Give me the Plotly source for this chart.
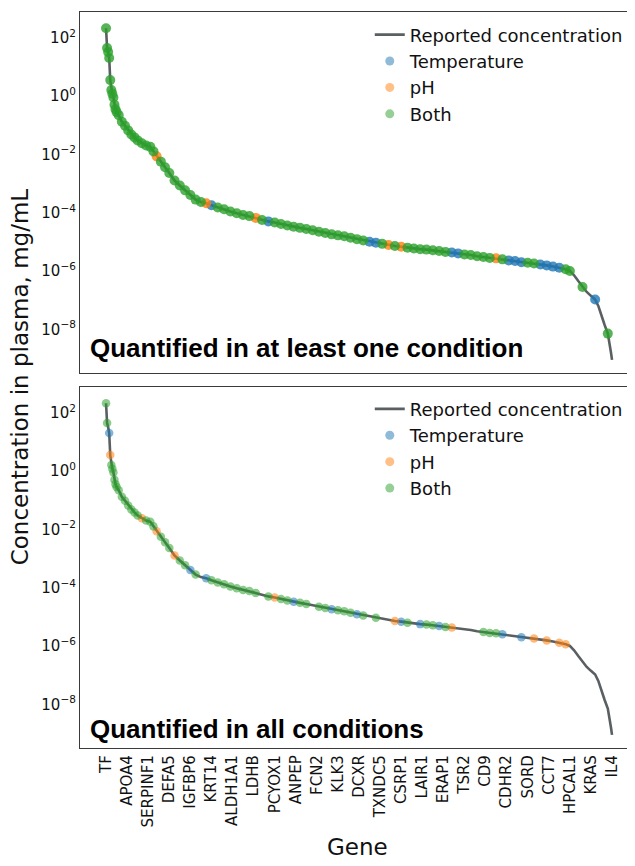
import plotly.graph_objects as go

# ---------------- data ----------------
tick_genes = ["TF", "APOA4", "SERPINF1", "DEFA5", "IGFBP6", "KRT14", "ALDH1A1", "LDHB",
              "PCYOX1", "ANPEP", "FCN2", "KLK3", "DCXR", "TXNDC5", "CSRP1", "LAIR1",
              "ERAP1", "TSR2", "CD9", "CDHR2", "SORD", "CCT7", "HPCAL1", "KRAS", "IL4"]
tick_step = 20  # one labelled gene every 20 ranks

# gene rank (sorted by reported plasma concentration) and reported concentration, mg/mL
curve_idx = [0, 1, 2, 3, 4, 5, 6, 7, 8, 9, 10, 12, 15, 18, 21, 24, 27, 30, 34, 38, 42, 45, 48,
             52, 56, 60, 65, 70, 75, 80, 85, 90, 95, 100, 106, 112, 118, 124, 130, 136, 142,
             148, 154, 160, 166, 172, 178, 184, 190, 196, 202, 208, 214, 220, 226, 232, 238,
             244, 250, 256, 262, 268, 274, 280, 286, 292, 298, 304, 310, 316, 322, 328, 334,
             340, 346, 352, 358, 364, 370, 376, 382, 388, 394, 400, 406, 412, 418, 424, 430,
             436, 440, 444, 448, 452, 456, 460, 464, 467, 470, 473, 476, 478, 479, 480]
curve_conc = [2.1e2, 44, 32, 20, 3.5, 1.6, 1.2, 0.89, 0.50, 0.35, 0.28, 0.22, 0.13, 0.095,
              0.066, 0.048, 0.038, 0.030, 0.024, 0.020, 0.018, 0.0126, 0.0085, 0.0056, 0.0036,
              0.0023, 0.00126, 8.5e-4, 5.8e-4, 4.0e-4, 2.8e-4, 2.3e-4, 2.1e-4, 1.8e-4,
              1.5e-4, 1.3e-4, 1.1e-4, 9.5e-5, 8.3e-5, 7.6e-5, 6.6e-5, 5.6e-5, 5.0e-5, 4.6e-5,
              4.1e-5, 3.6e-5, 3.3e-5, 3.0e-5, 2.75e-5, 2.5e-5, 2.2e-5, 2.0e-5, 1.8e-5, 1.66e-5,
              1.55e-5, 1.38e-5, 1.23e-5, 1.10e-5, 1.0e-5, 9.3e-6, 8.5e-6, 7.8e-6, 7.2e-6,
              6.8e-6, 6.3e-6, 5.9e-6, 5.6e-6, 5.4e-6, 5.1e-6, 4.8e-6, 4.5e-6, 4.3e-6, 4.0e-6,
              3.7e-6, 3.5e-6, 3.2e-6, 3.0e-6, 2.8e-6, 2.7e-6, 2.5e-6, 2.3e-6, 2.2e-6, 2.0e-6,
              1.9e-6, 1.8e-6, 1.66e-6, 1.55e-6, 1.41e-6, 1.29e-6, 1.15e-6,
              1.0e-6, 7.1e-7, 4.5e-7, 2.8e-7, 1.9e-7, 1.4e-7, 1.05e-7,
              6.3e-8, 2.8e-8, 1.4e-8, 7.1e-9, 3.2e-9, 1.6e-9, 8.9e-10]

# Panel 1: quantified in at least one condition
top_temperature_idx = [100, 154, 250, 256, 328, 334, 382, 388, 394, 412, 418, 424, 430, 464]
top_ph_idx = [48, 95, 142, 268, 280, 370]
top_not_quantified_idx = [444, 448, 456, 460, 467, 470, 473, 478, 479, 480]

# Panel 2: quantified in all conditions
bot_temperature_idx = [3, 80, 95, 178, 214, 238, 280, 298, 316, 376, 394]
bot_ph_idx = [4, 34, 48, 65, 160, 274, 328, 406, 418, 430, 436]
bot_both_idx = [0, 1, 5, 6, 7, 8, 9, 10, 12, 15, 18, 21, 24, 27, 30, 38, 42, 45, 52, 56, 60,
                70, 75, 85, 100, 106, 112, 118, 124, 130, 136, 142, 154, 166, 172, 184, 190,
                202, 208, 220, 226, 232, 244, 256, 286, 304, 310, 322, 358, 364, 370]

panel_titles = ["Quantified in at least one condition", "Quantified in all conditions"]

# ---------------- derived ----------------
conc_of = dict(zip(curve_idx, curve_conc))
top_both_idx = [i for i in curve_idx
                if i not in top_temperature_idx and i not in top_ph_idx
                and i not in top_not_quantified_idx]

C_TEMP, C_PH, C_BOTH = "#1f77b4", "#ff7f0e", "#2ca02c"
LINE_C = "#5a6062"
FONT = "DejaVu Sans"

fig = go.Figure()

panels = [
    ("x", "y", "legend", top_temperature_idx, top_ph_idx, top_both_idx, 0.8, 10),
    ("x2", "y2", "legend2", bot_temperature_idx, bot_ph_idx, bot_both_idx, 0.55, 8.5),
]
for xa, ya, lg, t_idx, p_idx, b_idx, op, msize in panels:
    fig.add_trace(go.Scatter(x=curve_idx, y=curve_conc, mode="lines",
                             line=dict(color=LINE_C, width=2.6),
                             name="Reported concentration", legend=lg, legendgroup=lg + "a",
                             xaxis=xa, yaxis=ya))
    for name, col, idx in [("Temperature", C_TEMP, t_idx), ("pH", C_PH, p_idx),
                           ("Both", C_BOTH, b_idx)]:
        fig.add_trace(go.Scatter(x=idx, y=[conc_of[i] for i in idx], mode="markers",
                                 marker=dict(color=col, size=msize, opacity=op, line=dict(width=0)),
                                 name=name, showlegend=False, xaxis=xa, yaxis=ya))
    for name, col in [("Temperature", C_TEMP), ("pH", C_PH), ("Both", C_BOTH)]:
        fig.add_trace(go.Scatter(x=[None], y=[None], mode="markers",
                                 marker=dict(color=col, size=9, opacity=0.5),
                                 name=name, legend=lg, legendgroup=lg + name,
                                 xaxis=xa, yaxis=ya))

tickvals_y = [1e-8, 1e-6, 1e-4, 1e-2, 1e0, 1e2]
ticktext_y = ["10<sup>−8</sup>", "10<sup>−6</sup>", "10<sup>−4</sup>", "10<sup>−2</sup>",
              "10<sup>0</sup>", "10<sup>2</sup>"]
xrange = [-24.7, 499.9]
yrange = [-9.5, 2.88]
frame = dict(showline=True, mirror=True, linecolor="#3a3a3a", linewidth=1.2,
             showgrid=False, zeroline=False, ticks="")

tick_pos = list(range(0, tick_step * len(tick_genes), tick_step))

# the page body has an 8px margin, so the figure is sized/offset to compensate
fig.update_layout(
    width=627, height=858,
    margin=dict(l=72, r=2, t=4, b=118),
    paper_bgcolor="white", plot_bgcolor="white",
    font=dict(family=FONT, size=15, color="#111111"),
    xaxis=dict(domain=[0, 1], anchor="y", range=xrange, showticklabels=False, **frame),
    yaxis=dict(domain=[0.5095, 1], anchor="x", type="log", range=yrange,
               tickvals=tickvals_y, ticktext=ticktext_y, **frame),
    xaxis2=dict(domain=[0, 1], anchor="y2", range=xrange, tickvals=tick_pos,
                ticktext=tick_genes, tickangle=-90, **frame),
    yaxis2=dict(domain=[0, 0.4905], anchor="x2", type="log", range=yrange,
                tickvals=tickvals_y, ticktext=ticktext_y, **frame),
    legend=dict(x=0.524, y=0.994, xanchor="left", yanchor="top",
                font=dict(size=18, family=FONT), bgcolor="rgba(0,0,0,0)",
                tracegroupgap=0, itemclick=False),
    legend2=dict(x=0.524, y=0.4855, xanchor="left", yanchor="top",
                 font=dict(size=18, family=FONT), bgcolor="rgba(0,0,0,0)",
                 tracegroupgap=0, itemclick=False),
    showlegend=True,
)

fig.add_annotation(text=panel_titles[0], xref="x domain", yref="y domain", x=0.015, y=0.068,
                   xanchor="left", yanchor="middle", showarrow=False,
                   font=dict(family="Liberation Sans", size=26, color="black", weight="bold"))
fig.add_annotation(text=panel_titles[1], xref="x2 domain", yref="y2 domain", x=0.015, y=0.054,
                   xanchor="left", yanchor="middle", showarrow=False,
                   font=dict(family="Liberation Sans", size=26, color="black", weight="bold"))
fig.add_annotation(text="Concentration in plasma, mg/mL", xref="paper", yref="paper",
                   x=-0.1085, y=0.505, textangle=-90, showarrow=False,
                   xanchor="center", yanchor="middle", font=dict(size=23, family=FONT))
fig.add_annotation(text="Gene", xref="paper", yref="paper", x=0.501, y=-0.135,
                   showarrow=False, xanchor="center", yanchor="middle",
                   font=dict(size=23, family=FONT))

fig.write_html("out.html")
